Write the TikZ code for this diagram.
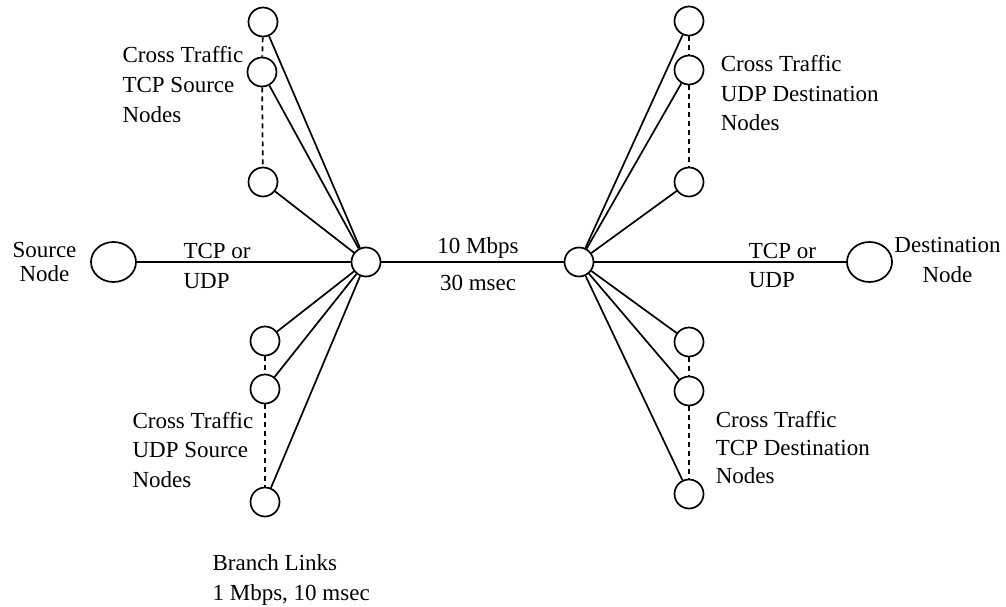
\documentclass[tikz,border=0pt]{standalone}
\usepackage{fontspec}
\setmainfont{Liberation Serif}
\usetikzlibrary{shapes.geometric}
\newcommand\mylinesL[2]{\vtop{\baselineskip=#1pt\halign{##\hfil\cr#2\crcr}}}
\newcommand\mylinesC[2]{\vtop{\baselineskip=#1pt\halign{\hfil##\hfil\cr#2\crcr}}}
\begin{document}
\begin{tikzpicture}[x=1pt,y=-1pt,
  line width=1.7pt,
  smallnode/.style={circle,draw,minimum size=29pt,inner sep=0pt},
  endnode/.style={ellipse,draw,minimum width=45pt,minimum height=40pt,inner sep=0pt},
  txt/.style={inner sep=0pt,font=\fontsize{23pt}{27pt}\selectfont},
  dots/.style={draw,dash pattern=on 5pt off 4pt}]
\useasboundingbox (0,0) rectangle (1006,607);
% hubs and end nodes
\node[smallnode] (hl) at (366,262) {};
\node[smallnode] (hr) at (579,262) {};
\node[endnode] (src) at (113.5,262) {};
\node[endnode] (dst) at (869.5,262) {};
% left column
\node[smallnode] (l1) at (263,22) {};
\node[smallnode] (l2) at (262,72) {};
\node[smallnode] (l3) at (263,182) {};
\node[smallnode] (l4) at (265,341) {};
\node[smallnode] (l5) at (265,389) {};
\node[smallnode] (l6) at (265,502) {};
% right column
\node[smallnode] (r1) at (689,21) {};
\node[smallnode] (r2) at (689,70) {};
\node[smallnode] (r3) at (689,182) {};
\node[smallnode] (r4) at (689,342) {};
\node[smallnode] (r5) at (689,391) {};
\node[smallnode] (r6) at (689,494) {};
% main links
\draw (src) -- (hl);
\draw (hl) -- (hr);
\draw (hr) -- (dst);
% branch links
\foreach \n in {l1,l2,l3,l4,l5,l6} {\draw (\n) -- (hl);}
\foreach \n in {r1,r2,r3,r4,r5,r6} {\draw (\n) -- (hr);}
% dashed
\draw[dots] (l1) -- (l2); \draw[dots] (l2) -- (l3);
\draw[dots] (l4) -- (l5); \draw[dots] (l5) -- (l6);
\draw[dots] (r1) -- (r2); \draw[dots] (r2) -- (r3);
\draw[dots] (r4) -- (r5); \draw[dots] (r5) -- (r6);
% labels
\node[txt,anchor=base west] (tl) at (121.7,63) {\mylinesL{30}{Cross Traffic\cr TCP Source\cr Nodes}};
\node[txt,anchor=base west] (tr) at (720,72) {\mylinesL{29.5}{Cross Traffic\cr UDP Destination\cr Nodes}};
\node[txt,anchor=base west] (bl) at (131.7,428) {\mylinesL{29.5}{Cross Traffic\cr UDP Source\cr Nodes}};
\node[txt,anchor=base west] (br) at (715,427) {\mylinesL{28}{Cross Traffic\cr TCP Destination\cr Nodes}};
\node[txt,anchor=base] (srct) at (44.5,257) {\mylinesC{24}{Source\cr Node}};
\node[txt,anchor=base] (dstt) at (947.5,252) {\mylinesC{30}{Destination\cr Node}};
\node[txt,anchor=base west] (tcpl) at (182.7,258) {\mylinesL{30}{TCP or\cr UDP}};
\node[txt,anchor=base west] (tcpr) at (748,258) {\mylinesL{29}{TCP or\cr UDP}};
\node[txt,anchor=base] (bw) at (478,253) {10 Mbps};
\node[txt,anchor=base] (dl) at (478,290) {30 msec};
\node[txt,anchor=base west] (brl) at (211.7,570) {\mylinesL{30}{Branch Links\cr 1 Mbps, 10 msec}};
\end{tikzpicture}
\end{document}
